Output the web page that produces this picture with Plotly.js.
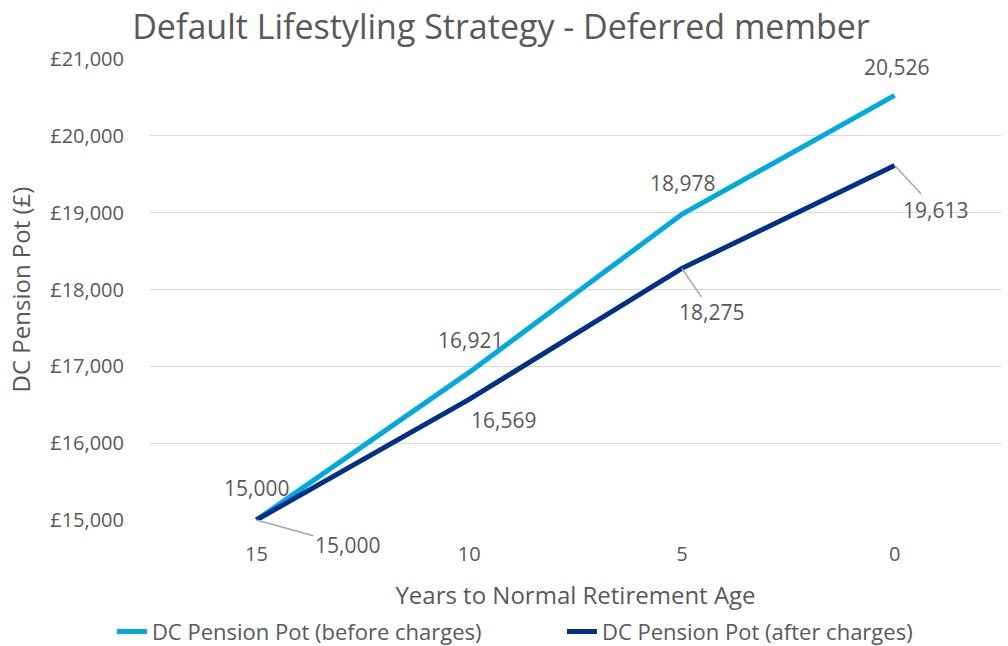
<!DOCTYPE html>
<html>
<head>
<meta charset="utf-8">
<script src="https://cdn.plot.ly/plotly-3.0.1.min.js"></script>
<style>html,body{margin:0;padding:0;background:#fff;}#chart{width:1008px;height:646px;}</style>
</head>
<body>
<div id="chart"></div>
<script>
var categories = ['15', '10', '5', '0'];
var beforeCharges = [15000, 16921, 18978, 20526];
var afterCharges = [15000, 16569, 18275, 19613];
var seriesNames = ['DC Pension Pot (before charges)', 'DC Pension Pot (after charges)'];

var FONT = '"Open Sans", "Noto Sans", sans-serif';
var GREY = '#595959';
var LIGHT = '#00A9E0';
var DARK = '#003087';

var traces = [
  {x: categories, y: beforeCharges, name: seriesNames[0], type: 'scatter', mode: 'lines',
   line: {color: LIGHT, width: 5}, legend: 'legend'},
  {x: categories, y: afterCharges, name: seriesNames[1], type: 'scatter', mode: 'lines',
   line: {color: DARK, width: 5}, legend: 'legend2'}
];

function fmt(v) { return v.toLocaleString('en-GB'); }

// label offsets (style only)
var beforeOff = [[0, 32], [1, 32], [1, 31], [2, 28]];
var afterOff = [{ax: 91, ay: 25}, {xs: 34, ys: -21}, {ax: 30, ay: 44}, {ax: 41, ay: 44}];

var annotations = [];
categories.forEach(function (c, i) {
  annotations.push({x: i, y: beforeCharges[i], xref: 'x', yref: 'y', text: fmt(beforeCharges[i]),
    showarrow: false, xshift: beforeOff[i][0], yshift: beforeOff[i][1],
    font: {family: FONT, size: 21, color: GREY}});
  var o = afterOff[i];
  if (o.ax !== undefined) {
    annotations.push({x: i, y: afterCharges[i], xref: 'x', yref: 'y', text: fmt(afterCharges[i]),
      showarrow: true, arrowhead: 0, arrowwidth: 1.5, arrowcolor: '#a6a6a6', ax: o.ax, ay: o.ay,
      standoff: 0, font: {family: FONT, size: 21, color: GREY}});
  } else {
    annotations.push({x: i, y: afterCharges[i], xref: 'x', yref: 'y', text: fmt(afterCharges[i]),
      showarrow: false, xshift: o.xs, yshift: o.ys,
      font: {family: FONT, size: 21, color: GREY}});
  }
});

var legendBase = {orientation: 'h', xref: 'container', yref: 'container', xanchor: 'left',
  y: 0.022, yanchor: 'middle', font: {family: FONT, size: 22, color: GREY}, bgcolor: 'rgba(0,0,0,0)'};

var layout = {
  width: 1008, height: 646,
  margin: {l: 150, r: 7, t: 59, b: 126},
  paper_bgcolor: '#fff', plot_bgcolor: '#fff',
  font: {family: FONT, color: GREY},
  title: {text: 'Default Lifestyling Strategy - Deferred member', x: 0.497, xanchor: 'center',
    y: 0.958, yanchor: 'middle', yref: 'container', font: {family: FONT, size: 34, color: GREY}},
  xaxis: {type: 'category', range: [-0.5, 3.5], showgrid: false, zeroline: false, showline: false,
    ticks: '', tickfont: {family: FONT, size: 20, color: GREY}, ticklabelstandoff: 20,
    title: {text: 'Years to Normal Retirement Age', standoff: 36, font: {family: FONT, size: 24, color: GREY}}},
  yaxis: {range: [15000, 21000], dtick: 1000, tickprefix: '£', tickformat: ',d', showgrid: true,
    gridcolor: '#d9d9d9', gridwidth: 1, zeroline: false, showline: false, ticks: '',
    tickfont: {family: FONT, size: 20, color: GREY}, ticklabelstandoff: 25,
    title: {text: 'DC Pension Pot (£)', standoff: 12, font: {family: FONT, size: 24, color: GREY}}},
  showlegend: true,
  legend: Object.assign({}, legendBase, {x: 0.111}),
  legend2: Object.assign({}, legendBase, {x: 0.5575}),
  annotations: annotations
};

Plotly.newPlot('chart', traces, layout, {displayModeBar: false, staticPlot: true});
</script>
</body>
</html>
